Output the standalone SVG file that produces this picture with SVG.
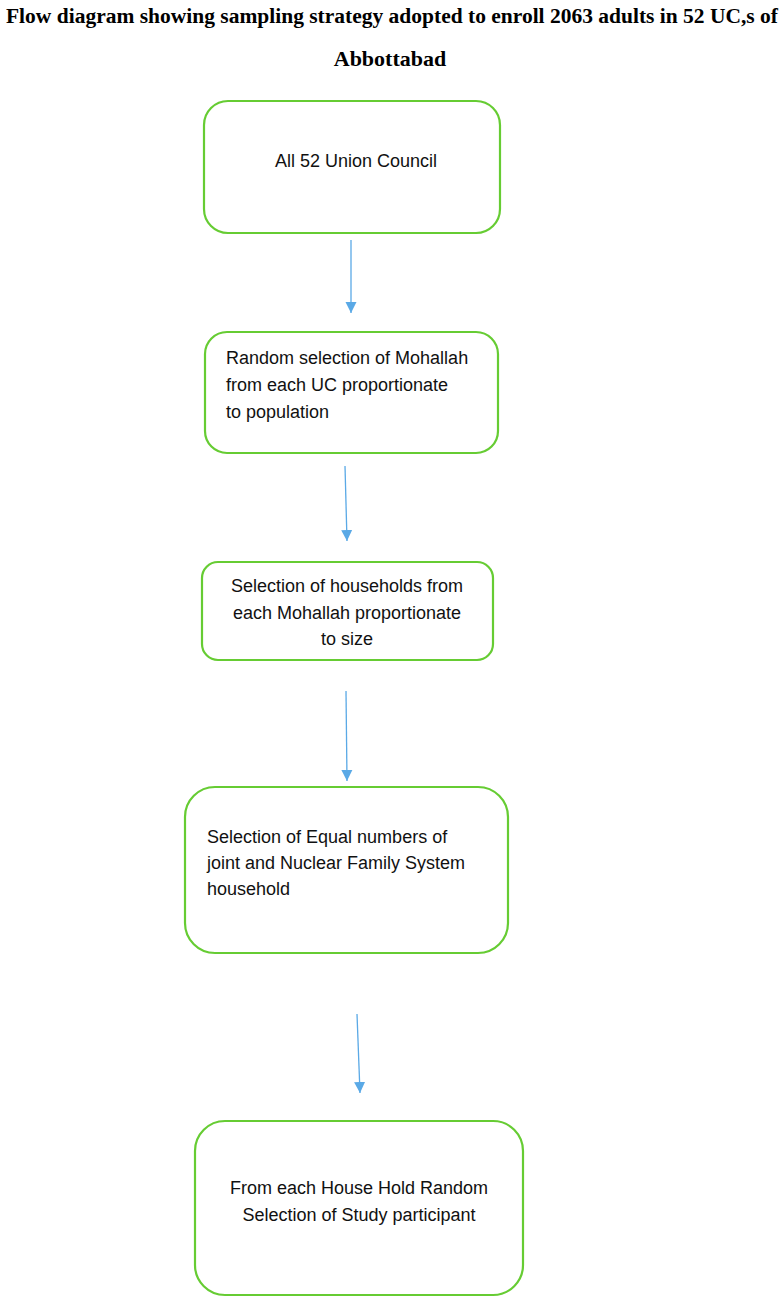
<svg xmlns="http://www.w3.org/2000/svg" width="784" height="1297" viewBox="0 0 784 1297">
<defs>
<style>
.title{font-family:"Liberation Serif","Times New Roman",serif;font-weight:bold;font-size:20.5px;fill:#000}
.box{fill:#fff;stroke:#66cc33;stroke-width:2.2}
.t{font-family:"Liberation Sans",Arial,sans-serif;font-size:18px;fill:#111}
.c{text-anchor:middle}
.arr{stroke:#5aa9e6;stroke-width:1.3;fill:none}
</style>
<marker id="ah" markerUnits="userSpaceOnUse" markerWidth="12" markerHeight="13" viewBox="0 0 12 12" refX="11" refY="6" orient="auto">
<path d="M0,0.5 L11,6 L0,11.5 Z" fill="#5aa9e6"/>
</marker>
</defs>
<rect width="784" height="1297" fill="#fff"/>
<g id="title">
<text class="title" x="392" y="23" text-anchor="middle" textLength="772" lengthAdjust="spacingAndGlyphs">Flow diagram showing sampling strategy adopted to enroll 2063 adults in 52 UC,s of</text>
<text class="title" x="390" y="66" text-anchor="middle" style="font-size:22px">Abbottabad</text>
</g>
<g id="n1">
<rect class="box" x="204" y="101" width="296" height="132" rx="24"/>
<text class="t" x="275" y="167">All 52 Union Council</text>
</g>
<g id="n2">
<rect class="box" x="205" y="332" width="293" height="121" rx="22"/>
<text class="t" x="226" y="364">Random selection of Mohallah</text>
<text class="t" x="226" y="391">from each UC proportionate</text>
<text class="t" x="226" y="418">to population</text>
</g>
<g id="n3">
<rect class="box" x="202" y="562" width="291" height="98" rx="16"/>
<text class="t c" x="347" y="592">Selection of households from</text>
<text class="t c" x="347" y="619">each Mohallah proportionate</text>
<text class="t c" x="347" y="645">to size</text>
</g>
<g id="n4">
<rect class="box" x="185" y="787" width="323" height="166" rx="30"/>
<text class="t" x="207" y="843">Selection of Equal numbers of</text>
<text class="t" x="207" y="869">joint and Nuclear Family System</text>
<text class="t" x="207" y="895">household</text>
</g>
<g id="n5">
<rect class="box" x="195" y="1121" width="328" height="174" rx="30"/>
<text class="t c" x="359" y="1194">From each House Hold Random</text>
<text class="t c" x="359" y="1221">Selection of Study participant</text>
</g>
<g id="connectors">
<line class="arr" x1="351" y1="240" x2="351" y2="313" marker-end="url(#ah)"/>
<line class="arr" x1="345" y1="466" x2="347" y2="541" marker-end="url(#ah)"/>
<line class="arr" x1="346" y1="691" x2="347" y2="781" marker-end="url(#ah)"/>
<line class="arr" x1="357" y1="1014" x2="360" y2="1093" marker-end="url(#ah)"/>
</g>
</svg>
